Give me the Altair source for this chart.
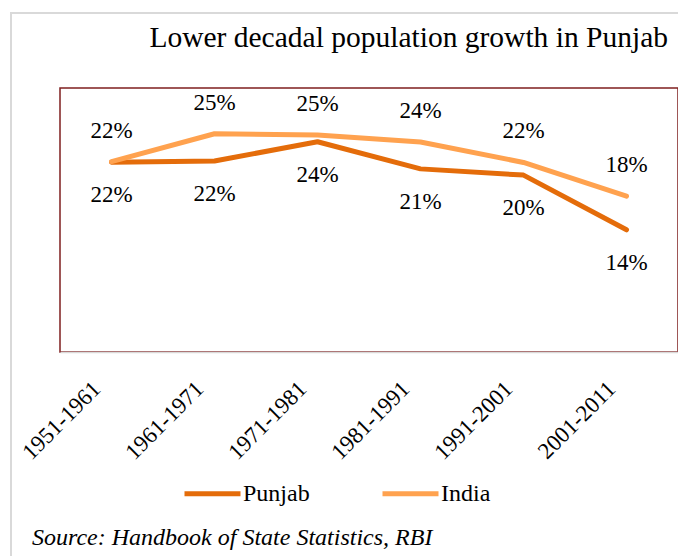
import altair as alt
import pandas as pd

periods = ["1951-1961", "1961-1971", "1971-1981", "1981-1991", "1991-2001", "2001-2011"]
punjab = [21.56, 21.70, 23.89, 20.81, 20.10, 13.89]
india = [21.64, 24.80, 24.66, 23.87, 21.54, 17.70]
series_names = ["Punjab", "India"]
series_colors = ["#E46C0A", "#FFA24F"]
title_text = "Lower decadal population growth in Punjab"
source_text = "Source: Handbook of State Statistics, RBI"

rows = []
for name, vals in zip(series_names, [punjab, india]):
    for p, v in zip(periods, vals):
        rows.append({"period": p, "value": v, "series": name})
df = pd.DataFrame(rows)

FONT = "Liberation Serif, Times New Roman, serif"

x_enc = alt.X("period:N", sort=periods, title=None,
              scale=alt.Scale(type="point", padding=0.5),
              axis=alt.Axis(labelAngle=-45, labelAlign="right", labelBaseline="middle",
                            labelFont=FONT, labelFontSize=23, labelColor="black",
                            ticks=False, domainColor="#D9D9D9", domainWidth=1.5,
                            labelPadding=33, labelOffset=-15, grid=False))
y_enc = alt.Y("value:Q", title=None, scale=alt.Scale(domain=[0, 30], nice=False),
              axis=None)

lines = alt.Chart(df).mark_line(strokeWidth=5, strokeCap="round", strokeJoin="round").encode(
    x=x_enc, y=y_enc,
    color=alt.Color("series:N", sort=series_names,
                    scale=alt.Scale(domain=series_names, range=series_colors),
                    legend=alt.Legend(title=None, orient="none", direction="horizontal",
                                      legendX=122, legendY=375,
                                      symbolType="stroke", symbolSize=3136,
                                      symbolStrokeWidth=5, labelFont=FONT,
                                      labelFontSize=24, labelColor="black",
                                      labelOffset=0, columnPadding=62)),
    order=alt.Order("series:N")
)

labels_india = alt.Chart(df).transform_filter(alt.datum.series == "India").transform_calculate(
    lab="round(datum.value) + '%'"
).mark_text(font=FONT, fontSize=23, color="black", dy=-31, baseline="middle").encode(
    x=alt.X("period:N", sort=periods), y="value:Q", text="lab:N")

labels_punjab = alt.Chart(df).transform_filter(alt.datum.series == "Punjab").transform_calculate(
    lab="round(datum.value) + '%'"
).mark_text(font=FONT, fontSize=23, color="black", dy=33, baseline="middle").encode(
    x=alt.X("period:N", sort=periods), y="value:Q", text="lab:N")

source = alt.Chart(pd.DataFrame({"t": [source_text]})).mark_text(
    font=FONT, fontSize=24, fontStyle="italic", color="black", align="left",
    baseline="alphabetic").encode(x=alt.value(-28), y=alt.value(457), text="t:N")

title = alt.Chart(pd.DataFrame({"t": [title_text]})).mark_text(
    font=FONT, fontSize=29.5, color="black", align="right",
    baseline="alphabetic").encode(x=alt.value(608), y=alt.value(-41), text="t:N")

frame = alt.Chart(pd.DataFrame({"t": [1]})).mark_rect(
    filled=False, stroke="#D9D9D9", strokeWidth=2).encode(
    x=alt.value(-49), y=alt.value(-75), x2=alt.value(700), y2=alt.value(600))

chart = alt.layer(frame, lines, labels_india, labels_punjab, source, title).properties(
    width=618, height=264,
    autosize=alt.AutoSizeParams(type="none"),
    padding={"left": 52, "top": 80, "right": 0, "bottom": 204},
).configure(background="white", font=FONT).configure_view(stroke="#7F1F1F", strokeWidth=1.5)

chart.save("out.html", embed_options={"renderer": "svg", "actions": False})
